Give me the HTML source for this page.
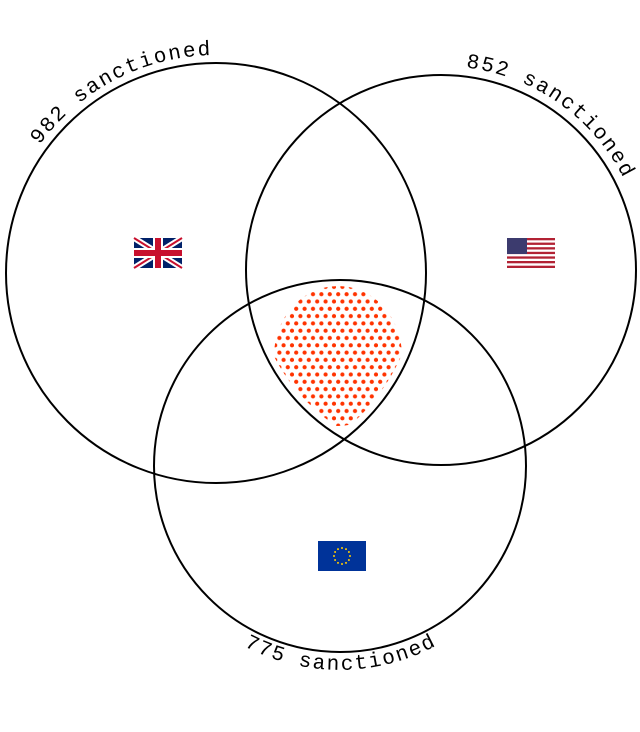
<!DOCTYPE html>
<html><head><style>html,body{margin:0;padding:0;background:#fff}svg{display:block}</style></head>
<body>
<svg width="640" height="732" viewBox="0 0 640 732" xmlns="http://www.w3.org/2000/svg">
<defs>
<pattern id="dots" width="8.4" height="14.6" patternUnits="userSpaceOnUse">
<circle cx="2.2" cy="2.2" r="2.1" fill="#ff3300"/><circle cx="6.4" cy="9.5" r="2.1" fill="#ff3300"/>
</pattern>
<clipPath id="c1"><circle cx="216" cy="273" r="203"/></clipPath>
<clipPath id="c2"><circle cx="441" cy="270" r="188"/></clipPath>
<clipPath id="c3"><circle cx="340" cy="466" r="180"/></clipPath>
<clipPath id="c4"><ellipse cx="338" cy="356" rx="64" ry="70"/></clipPath>
<path id="p1" d="M39.6 144.9 A218 218 0 0 1 383 133"/>
<path id="p2" d="M466 67.5 A204 204 0 0 1 633 340"/>
<path id="p3" d="M244 646 A204 204 0 0 0 496 597"/>
</defs>
<g clip-path="url(#c1)"><g clip-path="url(#c2)"><g clip-path="url(#c3)"><g clip-path="url(#c4)">
<rect x="260" y="280" width="160" height="160" fill="url(#dots)"/>
</g></g></g></g>
<g fill="none" stroke="#000" stroke-width="2">
<circle cx="216" cy="273" r="210"/>
<circle cx="441" cy="270" r="195"/>
<circle cx="340" cy="466" r="186"/>
</g>
<g font-family="Liberation Mono, monospace" font-size="21" letter-spacing="1.8" fill="#000">
<text><textPath href="#p1">982 sanctioned</textPath></text>
<text><textPath href="#p2">852 sanctioned</textPath></text>
<text><textPath href="#p3">775 sanctioned</textPath></text>
</g>
<g transform="translate(134,238)">
<rect width="48" height="30" fill="#012169"/>
<path d="M0 0L48 30M48 0L0 30" stroke="#fff" stroke-width="6"/>
<path d="M0 0L48 30M48 0L0 30" stroke="#C8102E" stroke-width="2"/>
<path d="M24 0V30M0 15H48" stroke="#fff" stroke-width="10"/>
<path d="M24 0V30M0 15H48" stroke="#C8102E" stroke-width="6"/>
</g>
<g transform="translate(507,238)">
<rect width="48" height="30" fill="#fff"/>
<g fill="#B22234">
<rect y="0" width="48" height="2.3"/><rect y="4.6" width="48" height="2.3"/><rect y="9.2" width="48" height="2.3"/>
<rect y="13.8" width="48" height="2.3"/><rect y="18.4" width="48" height="2.3"/><rect y="23" width="48" height="2.3"/>
<rect y="27.7" width="48" height="2.3"/></g>
<rect width="20" height="16" fill="#3C3B6E"/>
</g>
<g transform="translate(318,541)">
<rect width="48" height="30" fill="#003399"/>
<g fill="#FFCC00">
<circle cx="24" cy="7" r="1"/><circle cx="28" cy="8.1" r="1"/><circle cx="30.9" cy="11" r="1"/><circle cx="32" cy="15" r="1"/>
<circle cx="30.9" cy="19" r="1"/><circle cx="28" cy="21.9" r="1"/><circle cx="24" cy="23" r="1"/><circle cx="20" cy="21.9" r="1"/>
<circle cx="17.1" cy="19" r="1"/><circle cx="16" cy="15" r="1"/><circle cx="17.1" cy="11" r="1"/><circle cx="20" cy="8.1" r="1"/>
</g>
</g>
</svg>
</body></html>
